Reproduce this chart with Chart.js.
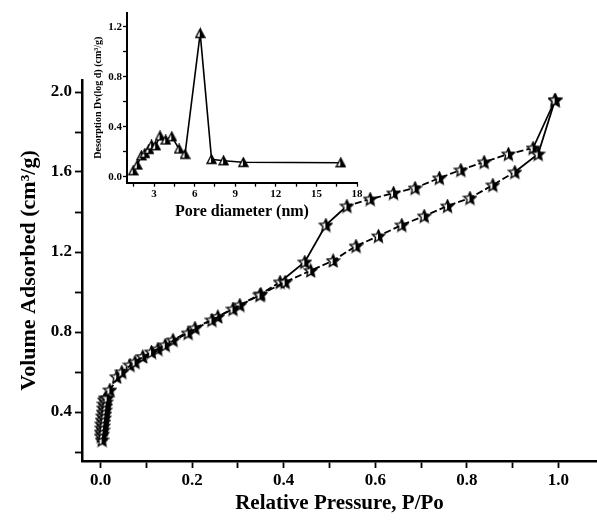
<!DOCTYPE html>
<html>
<head>
<meta charset="utf-8">
<script src="https://cdn.jsdelivr.net/npm/chart.js@4.4.1/dist/chart.umd.min.js"></script>
<style>
  html, body { margin: 0; padding: 0; background: #fff; }
  #wrap { position: relative; width: 597px; height: 520px; overflow: hidden; }
  #main { position: absolute; left: 0; top: 0; }
  #inset { position: absolute; left: 90px; top: 0; }
</style>
</head>
<body>
<div id="wrap">
  <canvas id="main" width="597" height="520"></canvas>
  <canvas id="inset" width="280" height="225"></canvas>
</div>
<script>
// isotherm, adsorption branch
const pressureAds = [0.003, 0.004, 0.005, 0.006, 0.007, 0.008, 0.009, 0.010, 0.011, 0.012, 0.014, 0.020,
  0.046, 0.075, 0.111, 0.141, 0.191, 0.243, 0.289, 0.348, 0.403, 0.459, 0.508, 0.558, 0.607,
  0.658, 0.707, 0.758, 0.807, 0.857, 0.905, 0.956, 0.993];
const volumeAds = [0.26, 0.29, 0.31, 0.33, 0.35, 0.37, 0.39, 0.41, 0.43, 0.45, 0.47, 0.51,
  0.60, 0.65, 0.70, 0.735, 0.795, 0.86, 0.915, 0.985, 1.05, 1.107, 1.157, 1.23, 1.28,
  1.335, 1.38, 1.43, 1.47, 1.535, 1.60, 1.69, 1.96];

// desorption branch (from high to low pressure)
const pressureDes = [0.993, 0.945, 0.891, 0.838, 0.787, 0.740, 0.687, 0.640, 0.589, 0.538, 0.492,
  0.446, 0.392, 0.350, 0.304, 0.256, 0.206, 0.158, 0.125, 0.092, 0.064, 0.035,
  0.010, 0.008, 0.007, 0.006, 0.005, 0.004, 0.003, 0.002, 0.002, 0.001, 0.001];
const volumeDes = [1.96, 1.72, 1.69, 1.65, 1.61, 1.57, 1.52, 1.495, 1.465, 1.43, 1.335,
  1.15, 1.05, 0.99, 0.935, 0.877, 0.82, 0.76, 0.715, 0.677, 0.635, 0.576,
  0.47, 0.46, 0.44, 0.42, 0.40, 0.38, 0.36, 0.34, 0.32, 0.30, 0.28];

// inset: pore size distribution
const poreDiameter = [1.46, 1.76, 2.06, 2.32, 2.62, 2.82, 3.12, 3.44, 3.86, 4.31, 4.85, 5.29,
  6.41, 7.25, 8.14, 9.6, 16.8];
const poreVolume = [0.048, 0.094, 0.168, 0.187, 0.219, 0.254, 0.248, 0.326, 0.294, 0.32, 0.222, 0.18,
  1.147, 0.139, 0.128, 0.115, 0.112];

const mainXLabels = ['0.0', '0.2', '0.4', '0.6', '0.8', '1.0'];
const mainYLabels = ['0.4', '0.8', '1.2', '1.6', '2.0'];
const insetXLabels = ['3', '6', '9', '12', '15', '18'];
const insetYLabels = ['0.0', '0.4', '0.8', '1.2'];

const FONT = 'Liberation Serif';

function toPoints(xs, ys) {
  return xs.map((x, i) => ({ x, y: ys[i] }));
}

function halfFilled(size, pathFn) {
  const c = document.createElement('canvas');
  c.width = size; c.height = size;
  const g = c.getContext('2d');
  pathFn(g, size);
  g.fillStyle = '#fff';
  g.fill();
  g.save();
  g.clip();
  g.fillStyle = '#000';
  g.fillRect(size / 2 - 0.5, 0, size, size);
  g.restore();
  pathFn(g, size);
  g.lineWidth = 1.4;
  g.strokeStyle = '#000';
  g.stroke();
  return c;
}

function starPath(g, size) {
  const cx = size / 2, cy = size / 2 + 0.6, R = size / 2 - 1, r = R * 0.47;
  g.beginPath();
  for (let i = 0; i < 10; i++) {
    const a = -Math.PI / 2 + i * Math.PI / 5;
    const rad = i % 2 ? r : R;
    const px = cx + rad * Math.cos(a), py = cy + rad * Math.sin(a);
    i ? g.lineTo(px, py) : g.moveTo(px, py);
  }
  g.closePath();
}

function trianglePath(g, size) {
  g.beginPath();
  g.moveTo(size / 2, 1);
  g.lineTo(size - 1, size - 1.5);
  g.lineTo(1, size - 1.5);
  g.closePath();
}

const starImg = halfFilled(15, starPath);
const triImg = halfFilled(11, trianglePath);

function axisStyle() {
  return {
    border: { display: true, color: '#000', width: 2.5 },
    grid: { display: true, drawOnChartArea: false, drawTicks: true, tickLength: 7, tickWidth: 1.8, color: '#000' },
  };
}

// desorption: solid through the steep part of the loop; both: solid closing segment
function dashFor(ctx) {
  const a = ctx.p0.parsed.x, b = ctx.p1.parsed.x;
  if (Math.max(a, b) > 0.95) return [];
  if (ctx.datasetIndex === 1 && Math.min(a, b) > 0.38 && Math.max(a, b) < 0.55) return [];
  return undefined;
}

new Chart(document.getElementById('main'), {
  type: 'scatter',
  data: {
    datasets: [
      {
        data: toPoints(pressureAds, volumeAds),
        showLine: true, borderColor: '#000', borderWidth: 1.8, borderDash: [7, 3],
        pointStyle: starImg, segment: { borderDash: dashFor },
      },
      {
        data: toPoints(pressureDes, volumeDes),
        showLine: true, borderColor: '#000', borderWidth: 1.8, borderDash: [7, 3],
        pointStyle: starImg, segment: { borderDash: dashFor },
      },
    ],
  },
  options: {
    responsive: false,
    animation: false,
    layout: { autoPadding: false, padding: { left: 0, top: 80, right: 0, bottom: 0 } },
    plugins: { legend: { display: false }, tooltip: { enabled: false } },
    scales: {
      x: {
        type: 'linear', min: -0.0409, max: 1.0846,
        ...axisStyle(),
        afterFit: (s) => { s.height = 59; },
        ticks: {
          stepSize: 0.1, includeBounds: false, maxRotation: 0, autoSkip: false, padding: 2,
          color: '#000', font: { family: FONT, weight: 'bold', size: 17 },
          callback: (v) => {
            const k = Math.round(v * 10);
            return k % 2 === 0 ? mainXLabels[k / 2] : '';
          },
        },
        title: {
          display: true, text: 'Relative Pressure, P/Po', color: '#000', padding: { top: 1 },
          font: { family: FONT, weight: 'bold', size: 21 },
        },
      },
      y: {
        type: 'linear', min: 0.155, max: 2.06,
        ...axisStyle(),
        afterFit: (s) => { s.width = 82; },
        ticks: {
          stepSize: 0.2, includeBounds: false, autoSkip: false, padding: 3,
          color: '#000', font: { family: FONT, weight: 'bold', size: 17 },
          callback: (v) => {
            const k = Math.round(v * 10);
            return k % 4 === 0 ? mainYLabels[k / 4 - 1] : '';
          },
        },
        title: {
          display: true, text: 'Volume Adsorbed (cm³/g)', color: '#000', padding: { top: 16, bottom: 0 },
          font: { family: FONT, weight: 'bold', size: 22 },
        },
      },
    },
  },
});

new Chart(document.getElementById('inset'), {
  type: 'scatter',
  data: {
    datasets: [{
      data: toPoints(poreDiameter, poreVolume),
      showLine: true, borderColor: '#000', borderWidth: 1.6, pointStyle: triImg,
    }],
  },
  options: {
    responsive: false,
    animation: false,
    layout: { autoPadding: false, padding: { left: 0, top: 12.7, right: 13, bottom: 0 } },
    plugins: { legend: { display: false }, tooltip: { enabled: false } },
    scales: {
      x: {
        type: 'linear', min: 1, max: 18,
        border: { display: true, color: '#000', width: 2 },
        grid: { display: true, drawOnChartArea: false, tickLength: 4, tickWidth: 1.3, color: '#000' },
        afterFit: (s) => { s.height = 42.3; },
        ticks: {
          stepSize: 1.5, includeBounds: false, maxRotation: 0, autoSkip: false, padding: 1,
          color: '#000', font: { family: FONT, weight: 'bold', size: 11 },
          callback: (v) => {
            const k = Math.round(v * 2);
            return k % 6 === 0 ? insetXLabels[k / 6 - 1] : '';
          },
        },
        title: {
          display: true, text: 'Pore diameter (nm)', color: '#000', padding: { top: 0 },
          font: { family: FONT, weight: 'bold', size: 16 },
        },
      },
      y: {
        type: 'linear', min: -0.048, max: 1.312,
        border: { display: true, color: '#000', width: 2 },
        grid: { display: true, drawOnChartArea: false, tickLength: 4, tickWidth: 1.3, color: '#000' },
        afterFit: (s) => { s.width = 37; },
        ticks: {
          stepSize: 0.2, includeBounds: false, autoSkip: false, padding: 1,
          color: '#000', font: { family: FONT, weight: 'bold', size: 11 },
          callback: (v) => {
            const k = Math.round(v * 10);
            return k % 4 === 0 ? insetYLabels[k / 4] : '';
          },
        },
        title: {
          display: true, text: 'Desorption Dv(log d) (cm³/g)', color: '#000', padding: { top: 2, bottom: 1 },
          font: { family: FONT, weight: 'bold', size: 10 },
        },
      },
    },
  },
});
</script>
</body>
</html>
